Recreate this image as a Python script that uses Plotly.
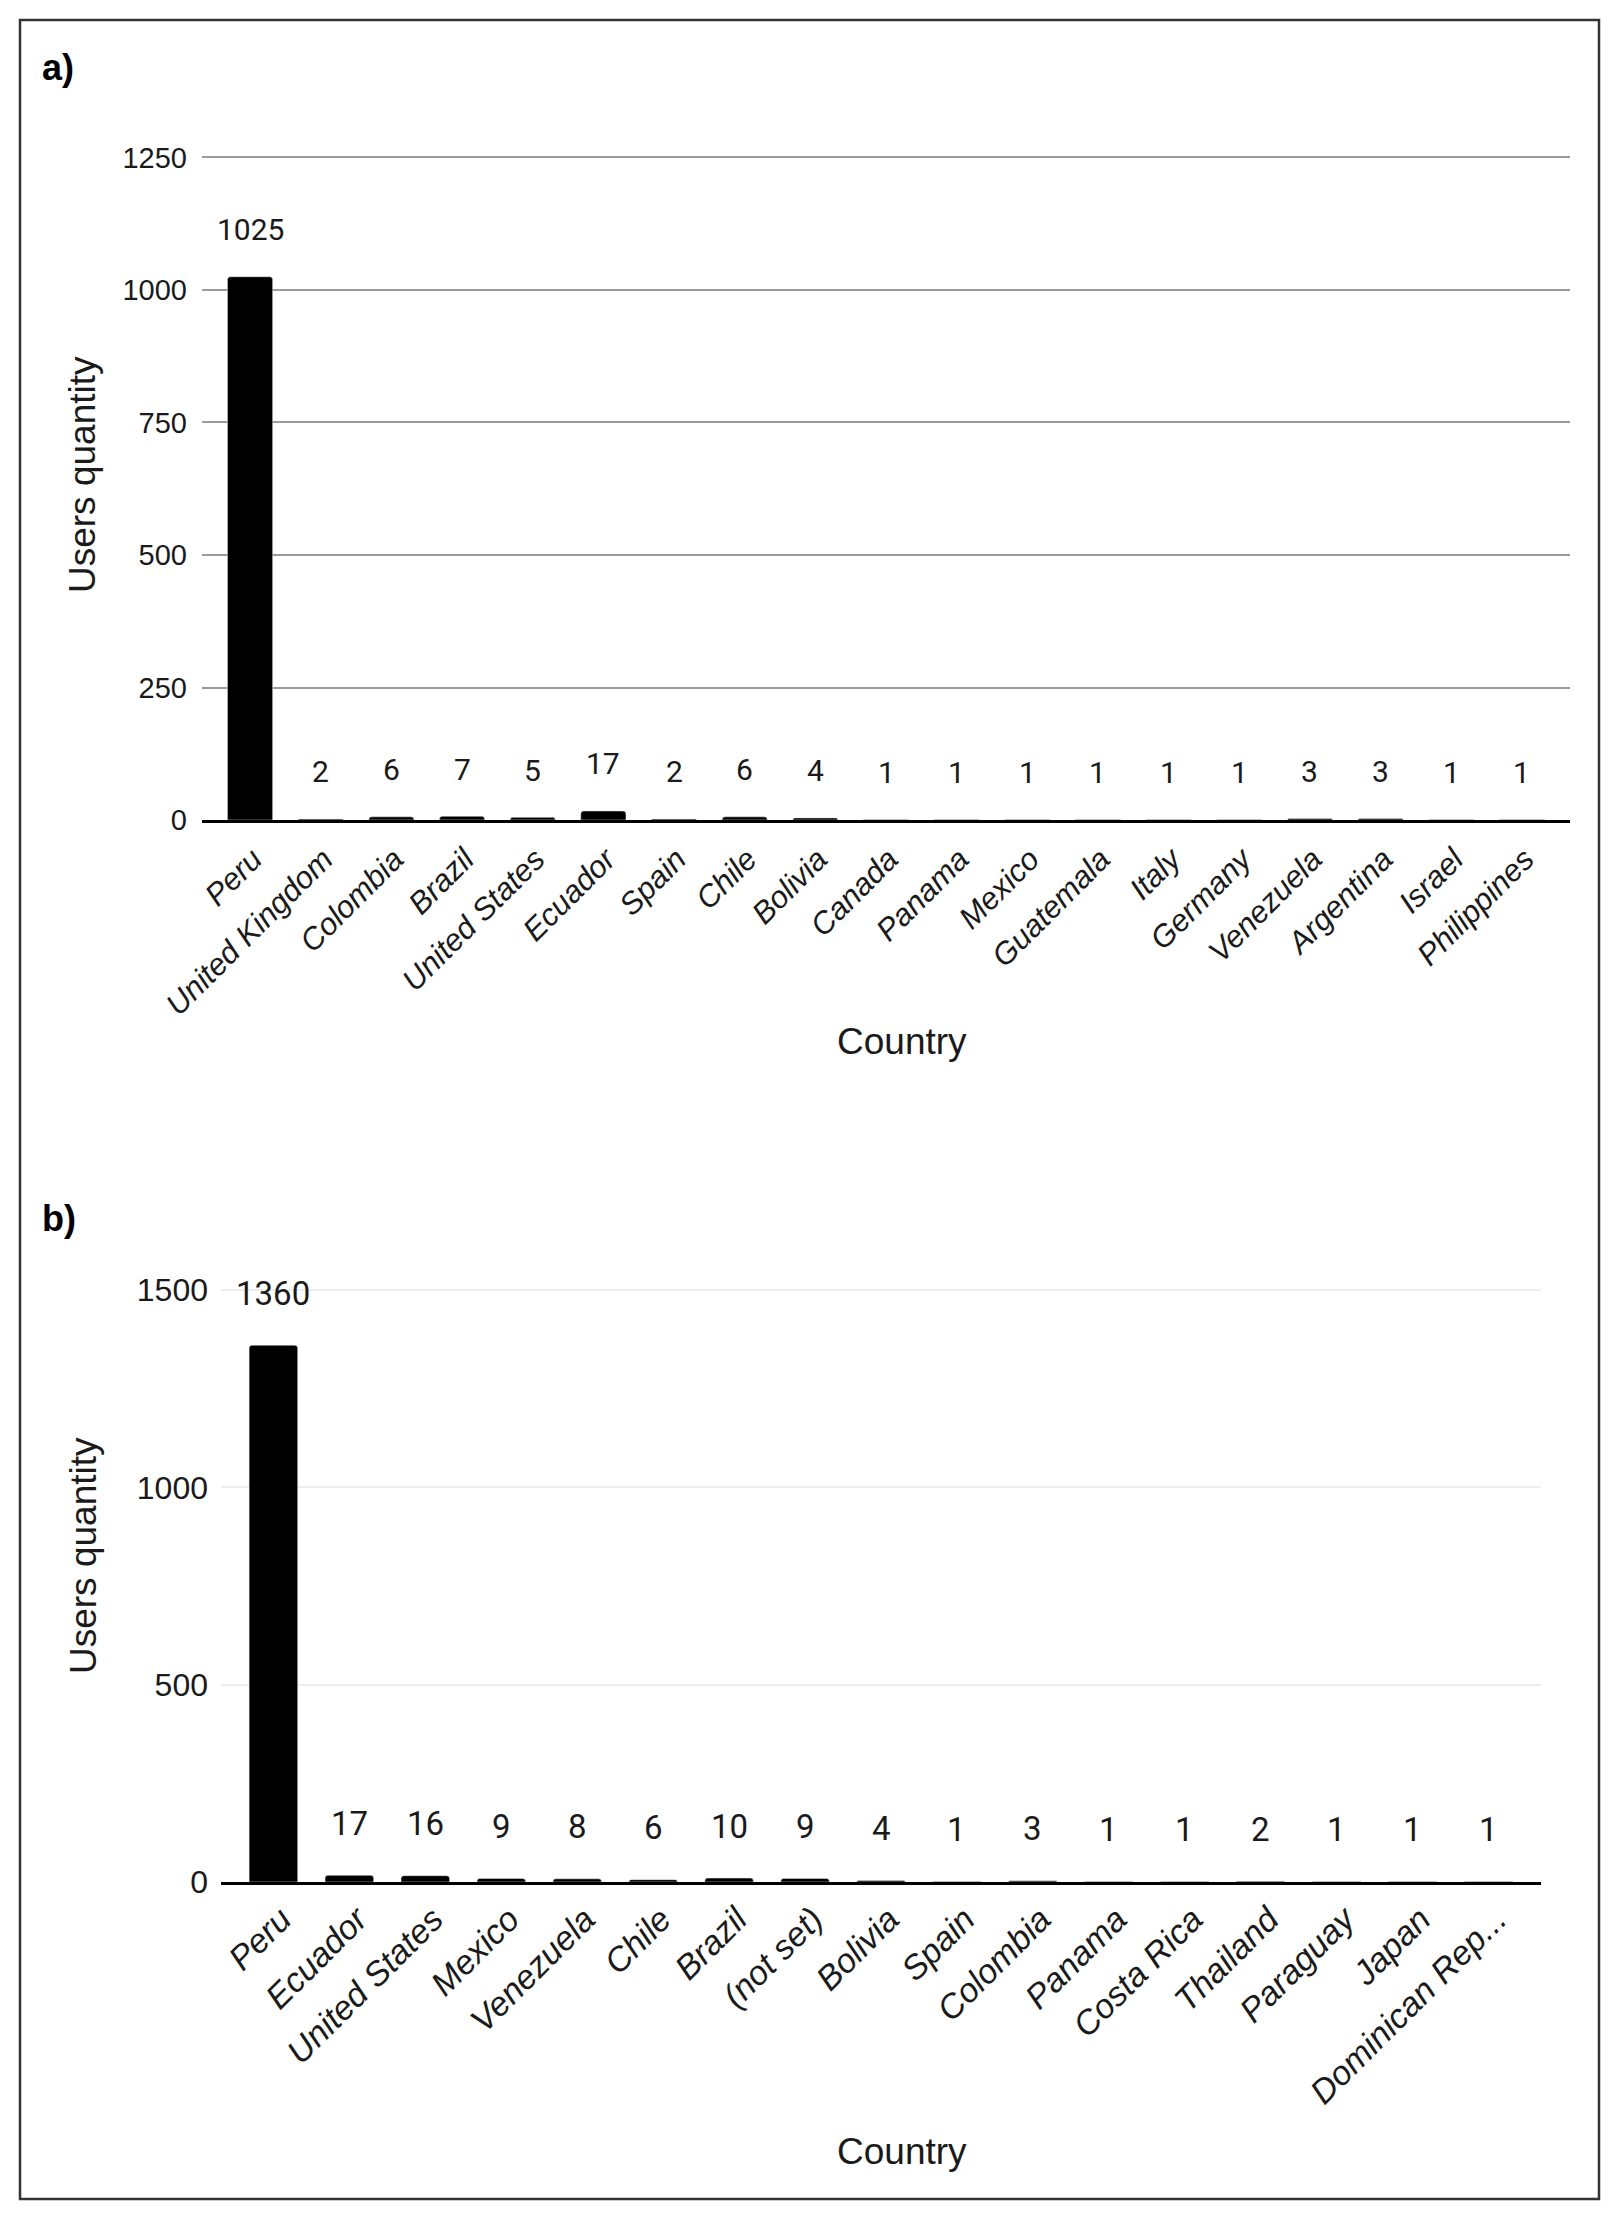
import plotly.graph_objects as go

# ---- data ----
countries_a = ["Peru", "United Kingdom", "Colombia", "Brazil", "United States", "Ecuador",
               "Spain", "Chile", "Bolivia", "Canada", "Panama", "Mexico", "Guatemala",
               "Italy", "Germany", "Venezuela", "Argentina", "Israel", "Philippines"]
users_a = [1025, 2, 6, 7, 5, 17, 2, 6, 4, 1, 1, 1, 1, 1, 1, 3, 3, 1, 1]

countries_b = ["Peru", "Ecuador", "United States", "Mexico", "Venezuela", "Chile", "Brazil",
               "(not set)", "Bolivia", "Spain", "Colombia", "Panama", "Costa Rica",
               "Thailand", "Paraguay", "Japan", "Dominican Rep..."]
users_b = [1360, 17, 16, 9, 8, 6, 10, 9, 4, 1, 3, 1, 1, 2, 1, 1, 1]

ticks_a = [0, 250, 500, 750, 1000, 1250]
ticks_b = [0, 500, 1000, 1500]

W, H = 1618, 2218

def px_x(v):
    return v / W

def px_y(v):
    return 1 - v / H

fig = go.Figure()
fig.add_trace(go.Bar(x=countries_a, y=users_a, marker=dict(color="#000000", cornerradius=3),
                     xaxis="x", yaxis="y", showlegend=False, hoverinfo="x+y"))
fig.add_trace(go.Bar(x=countries_b, y=users_b, marker=dict(color="#000000", cornerradius=3),
                     xaxis="x2", yaxis="y2", showlegend=False, hoverinfo="x+y"))

fam = "Liberation Sans, Arial, sans-serif"
tick_font_a = dict(family=fam, size=29, color="#1a1a1a")
tick_font_b = dict(family=fam, size=32, color="#1a1a1a")
xtick_font_a = dict(family=fam, size=31, color="#1a1a1a", style="italic")
xtick_font_b = dict(family=fam, size=34, color="#1a1a1a", style="italic")

pad_a = 0.18
pad_b = 0.19
fig.update_layout(
    width=W, height=H, autosize=False,
    margin=dict(l=0, r=0, t=0, b=0, pad=0),
    paper_bgcolor="white", plot_bgcolor="white",
    bargap=0.36,
    xaxis=dict(domain=[px_x(202), px_x(1570)], anchor="y", type="category",
               range=[-0.5 - pad_a, len(countries_a) - 0.5 + pad_a],
               tickangle=-45, tickfont=xtick_font_a, showgrid=False,
               showline=True, linecolor="#000000", linewidth=2.5, automargin=False,
               ticks="", ticklabelstandoff=6, ticklabelshift=3, fixedrange=True),
    yaxis=dict(domain=[px_y(820), px_y(154.3)], anchor="x", range=[0, 1256],
               tickvals=ticks_a, tickfont=tick_font_a, showgrid=True, automargin=False,
               gridcolor="#9a9a9a", gridwidth=2, zeroline=False,
               showline=False, ticks="", ticklabelstandoff=14, fixedrange=True),
    xaxis2=dict(domain=[px_x(221), px_x(1541)], anchor="y2", type="category",
                range=[-0.5 - pad_b, len(countries_b) - 0.5 + pad_b],
                tickangle=-45, tickfont=xtick_font_b, showgrid=False,
                showline=True, linecolor="#000000", linewidth=2.5, automargin=False,
                ticks="", ticklabelstandoff=1, ticklabelshift=8, fixedrange=True),
    yaxis2=dict(domain=[px_y(1882), px_y(1287.6)], anchor="x2", range=[0, 1506],
                tickvals=ticks_b, tickfont=tick_font_b, showgrid=True, automargin=False,
                gridcolor="#eeeeee", gridwidth=2, zeroline=False,
                showline=False, ticks="", ticklabelstandoff=12, fixedrange=True),
)

label_font_a = dict(family="Roboto, sans-serif", size=30, color="#1a1a1a")
label_font_b = dict(family="Roboto, sans-serif", size=33, color="#1a1a1a")
annotations = []
for c, v in zip(countries_a, users_a):
    annotations.append(dict(x=c, y=v, xref="x", yref="y", text=str(v), showarrow=False,
                            yanchor="middle", yshift=47, font=label_font_a))
for c, v in zip(countries_b, users_b):
    annotations.append(dict(x=c, y=v, xref="x2", yref="y2", text=str(v), showarrow=False,
                            yanchor="middle", yshift=52, font=label_font_b))

title_font = dict(family=fam, size=37, color="#1a1a1a")
panel_font = dict(family=fam, size=36, color="#000000", weight="bold")
annotations += [
    dict(x=px_x(40), y=px_y(68), xref="paper", yref="paper", text="a)", showarrow=False,
         xanchor="left", yanchor="middle", font=panel_font),
    dict(x=px_x(40), y=px_y(1218), xref="paper", yref="paper", text="b)", showarrow=False,
         xanchor="left", yanchor="middle", font=panel_font),
    dict(x=px_x(83), y=px_y(475), xref="paper", yref="paper", text="Users quantity",
         showarrow=False, textangle=-90, xanchor="center", yanchor="middle", font=title_font),
    dict(x=px_x(83), y=px_y(1556), xref="paper", yref="paper", text="Users quantity",
         showarrow=False, textangle=-90, xanchor="center", yanchor="middle", font=title_font),
    dict(x=px_x(902), y=px_y(1041), xref="paper", yref="paper", text="Country",
         showarrow=False, xanchor="center", yanchor="middle", font=title_font),
    dict(x=px_x(902), y=px_y(2151), xref="paper", yref="paper", text="Country",
         showarrow=False, xanchor="center", yanchor="middle", font=title_font),
]
fig.update_layout(annotations=annotations)

fig.add_shape(type="rect", xref="paper", yref="paper",
              x0=px_x(20), x1=px_x(1599), y0=px_y(2199), y1=px_y(20),
              line=dict(color="#333333", width=2.5), fillcolor="rgba(0,0,0,0)", layer="above")

fig.write_html("out.html", config={"displayModeBar": False},
               post_script="document.body.style.margin='0';document.body.style.overflow='hidden';")
